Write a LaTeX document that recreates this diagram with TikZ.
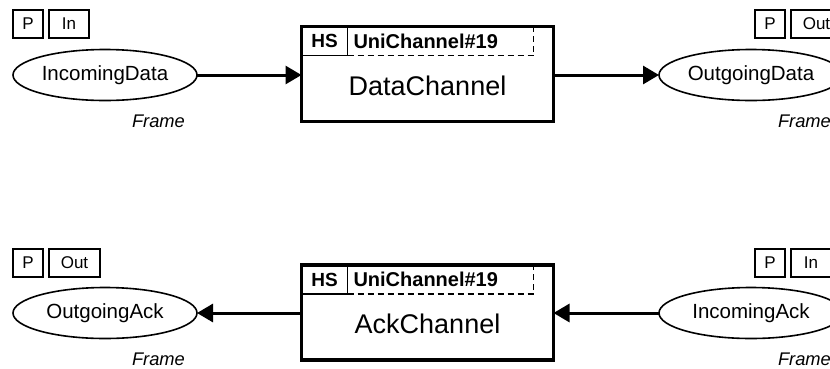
\documentclass[tikz,border=0pt]{standalone}
\usepackage{fontspec}
\setmainfont{Liberation Sans}
\usetikzlibrary{shapes.geometric,arrows.meta,calc}

\tikzset{
  every node/.style={outer sep=0pt},
  place/.style={ellipse, draw, line width=1.6bp, minimum width=184bp, minimum height=51bp,
    inner sep=0pt, font=\fontsize{20.5bp}{24bp}\selectfont},
  substbox/.style={rectangle, draw, line width=3.2bp, minimum width=252bp, minimum height=95bp, inner sep=0pt},
  hsbox/.style={rectangle, draw, line width=1.4bp, minimum width=46bp, minimum height=29bp,
    inner sep=0pt, font=\bfseries\fontsize{19bp}{22bp}\selectfont},
  instname/.style={font=\bfseries\fontsize{20bp}{24bp}\selectfont, inner sep=0pt, anchor=base west},
  instline/.style={line width=1.3bp, dash pattern=on 6bp off 4bp},
  transname/.style={font=\fontsize{27bp}{32bp}\selectfont, inner sep=0pt, anchor=base},
  porttag/.style={rectangle, draw, line width=1.4bp, minimum height=28bp, inner sep=0pt,
    font=\fontsize{17bp}{20bp}\selectfont},
  colset/.style={font=\itshape\fontsize{18.3bp}{22bp}\selectfont, inner sep=0pt, anchor=base west},
  flow/.style={line width=3bp, -{Triangle[length=16bp,width=18bp]}}
}

\begin{document}
\begin{tikzpicture}[x=1bp,y=-1bp]
\useasboundingbox (0,0) rectangle (830,368);
\clip (0,0) rectangle (830,368);

% ---- upper half: data path ----
\node[place] (indata) at (105,75) {IncomingData};
\node[porttag, minimum width=30bp] (pa) at (28,24) {P};
\node[porttag, minimum width=40bp, anchor=west] (ina) at ($(pa.east)+(6,0)$) {In};
\node[colset] (fa) at ($(indata.south)+(27,27)$) {Frame};

\node[substbox] (datach) at (427.5,74) {};
\node[hsbox, anchor=north west] (hsa) at (datach.north west) {HS};
\node[instname] (insta) at ($(hsa.south east)+(6,-7.5)$) {UniChannel\#19};
\draw[instline] (hsa.south east) -| ($(datach.north east)+(-20,0)$);
\node[transname] (tna) at ($(datach.center)+(0,21)$) {DataChannel};

\node[place] (outdata) at (751,75) {OutgoingData};
\node[porttag, minimum width=30bp] (pb) at (770,24) {P};
\node[porttag, minimum width=51bp, anchor=west] (outb) at ($(pb.east)+(6,0)$) {Out};
\node[colset] (fb) at ($(outdata.south)+(27,27)$) {Frame};

\draw[flow] (indata.east) -- (datach.west |- indata.east);
\draw[flow] (datach.east |- outdata.west) -- (outdata.west);

% ---- lower half: acknowledgement path ----
\node[place] (outack) at (105,313) {OutgoingAck};
\node[porttag, minimum width=30bp] (pc) at (28,263) {P};
\node[porttag, minimum width=51bp, anchor=west] (outc) at ($(pc.east)+(6,0)$) {Out};
\node[colset] (fc) at ($(outack.south)+(27,27)$) {Frame};

\node[substbox] (ackch) at (427.5,312.5) {};
\node[hsbox, anchor=north west] (hsb) at (ackch.north west) {HS};
\node[instname] (instb) at ($(hsb.south east)+(6,-7.5)$) {UniChannel\#19};
\draw[instline] (hsb.south east) -| ($(ackch.north east)+(-20,0)$);
\node[transname] (tnb) at ($(ackch.center)+(0,21)$) {AckChannel};

\node[place] (inack) at (751,313) {IncomingAck};
\node[porttag, minimum width=30bp] (pd) at (770,263) {P};
\node[porttag, minimum width=40bp, anchor=west] (ind) at ($(pd.east)+(6,0)$) {In};
\node[colset] (fd) at ($(inack.south)+(27,27)$) {Frame};

\draw[flow] (ackch.west |- outack.east) -- (outack.east);
\draw[flow] (inack.west) -- (ackch.east |- inack.west);
\end{tikzpicture}
\end{document}
